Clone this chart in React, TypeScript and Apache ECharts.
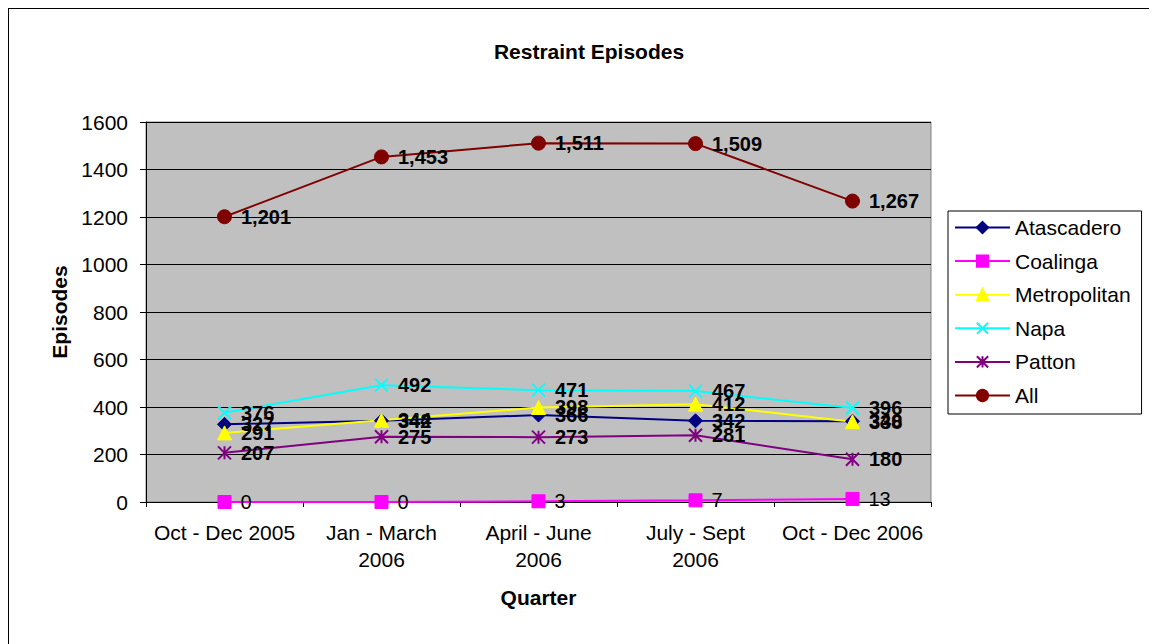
import React, { useEffect, useRef } from "react";
import * as echarts from "echarts";

const categories = ["Oct - Dec 2005", "Jan - March\n2006", "April - June\n2006", "July - Sept\n2006", "Oct - Dec 2006"];
const atascadero = [327, 342, 366, 342, 340];
const coalinga = [0, 0, 3, 7, 13];
const metropolitan = [291, 344, 398, 412, 338];
const napa = [376, 492, 471, 467, 396];
const patton = [207, 275, 273, 281, 180];
const all = [1201, 1453, 1511, 1509, 1267];
const yTicks = { min: 0, max: 1600, interval: 200 };

const X_PATH = "path://M0,0L10,10M10,0L0,10";
const STAR_PATH = "path://M0,0L10,10M10,0L0,10M5,0L5,10";
const FONT = "Arial, 'Liberation Sans', sans-serif";

export default function App() {
  const ref = useRef<HTMLDivElement>(null);
  useEffect(() => {
    if (!ref.current) return;
    const chart = echarts.init(ref.current, null, { renderer: "svg" });
    const fmt = (p: any) => Number(p.value).toLocaleString("en-US");
    const mk = (name: string, data: number[], color: string, symbol: string, size: number, bold = true, stroke = false) => ({
      name,
      type: "line",
      data,
      symbol,
      symbolSize: size,
      lineStyle: { color, width: 2 },
      itemStyle: stroke
        ? { color: "transparent", borderColor: color, borderWidth: 2 }
        : { color, borderColor: color, borderWidth: 1 },
      label: {
        show: true,
        position: "right",
        distance: 9,
        formatter: fmt,
        color: "#000",
        fontFamily: FONT,
        fontSize: 20,
        fontWeight: bold ? "bold" : "normal",
      },
    });
    chart.setOption({
      animation: false,
      backgroundColor: "#fff",
      title: {
        text: "Restraint Episodes",
        left: 575,
        top: 27,
        textAlign: "center",
        textStyle: { fontFamily: FONT, fontSize: 21, fontWeight: "bold", color: "#000" },
      },
      grid: { left: 137, top: 113, width: 785, height: 380, backgroundColor: "#c0c0c0", show: true, borderColor: "#808080", borderWidth: 1 },
      legend: {
        orient: "vertical",
        left: 939,
        top: 202,
        padding: [6, 11, 8, 6],
        borderColor: "#000",
        borderWidth: 1,
        itemWidth: 55,
        itemHeight: 14,
        itemGap: 12.6,
        textStyle: { fontFamily: FONT, fontSize: 21, color: "#000" },
        data: ["Atascadero", "Coalinga", "Metropolitan", "Napa", "Patton", "All"],
      },
      xAxis: {
        type: "category",
        data: categories,
        boundaryGap: true,
        name: "Quarter",
        nameLocation: "middle",
        nameGap: 85,
        nameTextStyle: { fontFamily: FONT, fontSize: 21, fontWeight: "bold", color: "#000" },
        axisLine: { lineStyle: { color: "#000" } },
        axisTick: { show: true, lineStyle: { color: "#000" }, length: 5 },
        axisLabel: { color: "#000", fontFamily: FONT, fontSize: 21, lineHeight: 27, margin: 17, interval: 0 },
      },
      yAxis: {
        type: "value",
        min: yTicks.min,
        max: yTicks.max,
        interval: yTicks.interval,
        name: "Episodes",
        nameLocation: "middle",
        nameGap: 76,
        nameTextStyle: { fontFamily: FONT, fontSize: 21, fontWeight: "bold", color: "#000" },
        axisLine: { show: true, lineStyle: { color: "#000" } },
        axisTick: { show: true, lineStyle: { color: "#000" }, length: 6 },
        splitLine: { lineStyle: { color: "#000", width: 1 } },
        axisLabel: { color: "#000", fontFamily: FONT, fontSize: 21, margin: 18, formatter: (v: number) => String(v) },
      },
      series: [
        mk("Atascadero", atascadero, "#000080", "diamond", 14),
        mk("Coalinga", coalinga, "#ff00ff", "rect", 13, false),
        mk("Metropolitan", metropolitan, "#ffff00", "triangle", 14),
        mk("Napa", napa, "#00ffff", X_PATH, 13, true, true),
        mk("Patton", patton, "#800080", STAR_PATH, 13, true, true),
        mk("All", all, "#800000", "circle", 14),
      ],
    });
    return () => chart.dispose();
  }, []);
  return (
    <div style={{ width: 1142, height: 660, border: "1px solid #000", boxSizing: "border-box" }}>
      <div ref={ref} style={{ width: 1140, height: 658 }} />
    </div>
  );
}
